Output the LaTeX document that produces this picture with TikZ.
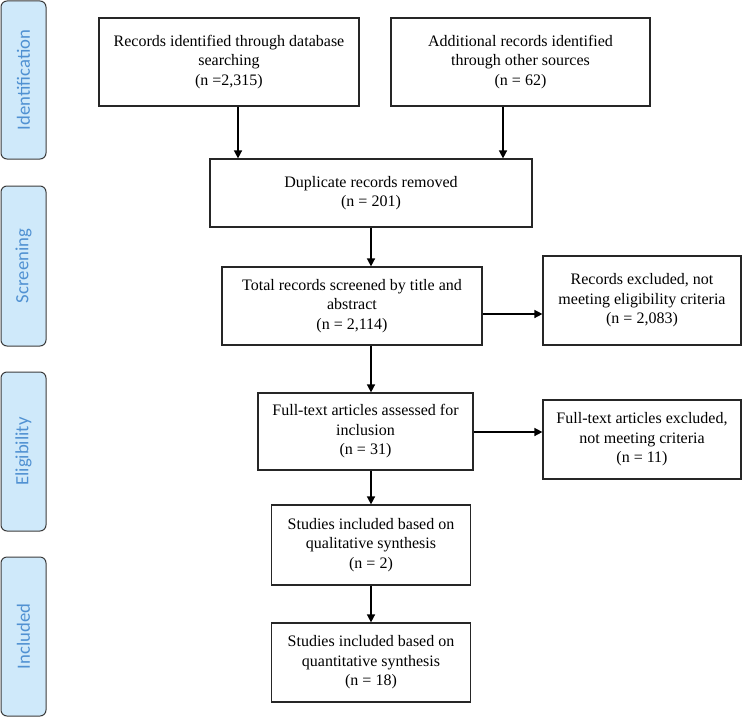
\documentclass[tikz,border=0pt]{standalone}
\usepackage{fontspec}
\setmainfont{Liberation Serif}
\newfontfamily\sidefont{Carlito}
\usetikzlibrary{arrows.meta}
\definecolor{sidefill}{RGB}{207,233,250}
\definecolor{sidetext}{RGB}{80,145,210}
\definecolor{sideline}{RGB}{60,60,60}
\begin{document}
\begin{tikzpicture}[x=1pt,y=1pt,
 box/.style={draw=black!85, line width=1.2pt, align=center, inner sep=0pt,
   font=\fontsize{16}{19.5}\selectfont},
 side/.style={draw=sideline, fill=sidefill, rounded corners=6pt, line width=1pt,
   inner sep=0pt, text=sidetext, font=\sidefont\fontsize{18.7}{20}\selectfont, rotate=90},
 arr/.style={-{Triangle[length=8pt,width=8pt]}, line width=1.5pt}]
\useasboundingbox (0,0) rectangle (743,-717);
% side labels
\node[side, minimum width=158, minimum height=45] (sid) at (23.5,-80) {Identification};
\node[side, minimum width=160, minimum height=45] (ssc) at (23.5,-266) {Screening};
\node[side, minimum width=159, minimum height=45] (sel) at (23.5,-451.5) {Eligibility};
\node[side, minimum width=159, minimum height=45] (sin) at (23.5,-636.5) {Included};
% boxes
\node[box, minimum width=260, minimum height=88] (b1) at (229,-62)
  {Records identified through database\\searching\\(n =2,315)};
\node[box, minimum width=259, minimum height=88] (b2) at (520.5,-62)
  {Additional records identified\\through other sources\\(n = 62)};
\node[box, minimum width=322, minimum height=68] (dup) at (371,-193)
  {Duplicate records removed\\(n = 201)};
\node[box, minimum width=260, minimum height=78] (tot) at (352,-306)
  {Total records screened by title and\\abstract\\(n = 2,114)};
\node[box, minimum width=198, minimum height=89] (ex1) at (642,-300.5)
  {Records excluded, not\\meeting eligibility criteria\\(n = 2,083)};
\node[box, minimum width=215, minimum height=77] (ft) at (365.5,-431.5)
  {Full-text articles assessed for\\inclusion\\(n = 31)};
\node[box, minimum width=198, minimum height=79] (ex2) at (642,-439.5)
  {Full-text articles excluded,\\not meeting criteria\\(n = 11)};
\node[box, minimum width=199, minimum height=80] (st1) at (371,-545)
  {Studies included based on\\qualitative synthesis\\(n = 2)};
\node[box, minimum width=199, minimum height=79] (st2) at (371,-662.5)
  {Studies included based on\\quantitative synthesis\\(n = 18)};
% connectors
\coordinate (x1) at (238,0);
\coordinate (x2) at (503,0);
\coordinate (xm) at (371,0);
\coordinate (h1) at (0,-314);
\coordinate (h2) at (0,-432);
\draw[arr] (b1.south -| x1) -- (dup.north -| x1);
\draw[arr] (b2.south -| x2) -- (dup.north -| x2);
\draw[arr] (dup.south -| xm) -- (tot.north -| xm);
\draw[arr] (tot.east |- h1) -- (ex1.west |- h1);
\draw[arr] (tot.south -| xm) -- (ft.north -| xm);
\draw[arr] (ft.east |- h2) -- (ex2.west |- h2);
\draw[arr] (ft.south -| xm) -- (st1.north -| xm);
\draw[arr] (st1.south -| xm) -- (st2.north -| xm);
\end{tikzpicture}
\end{document}
